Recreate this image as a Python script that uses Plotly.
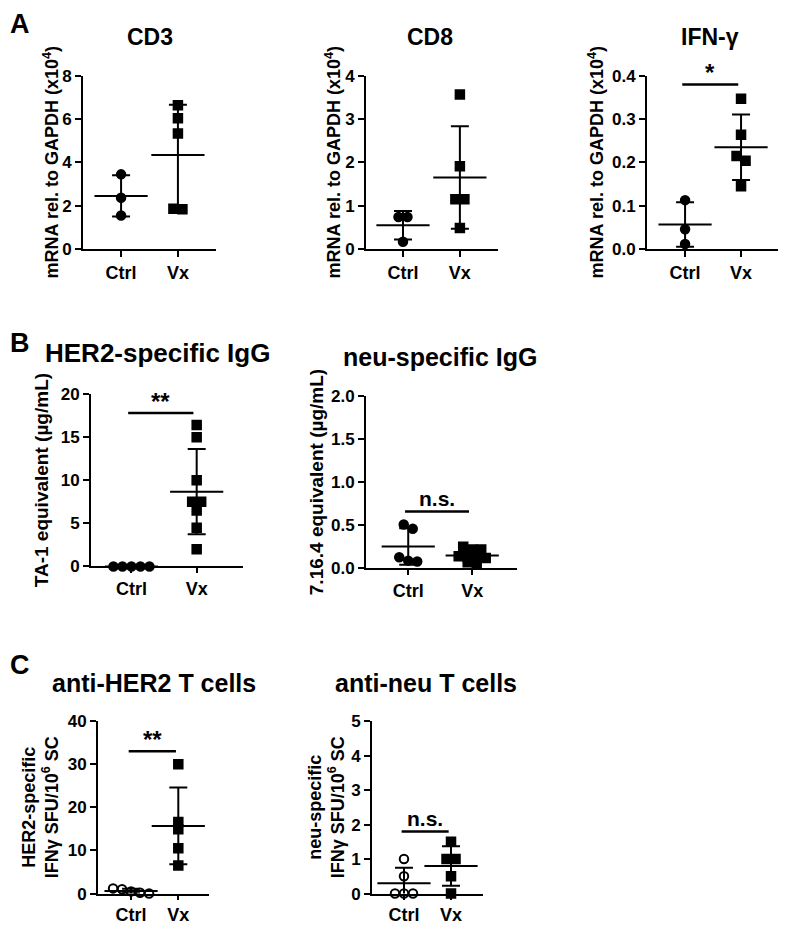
import numpy as np
import plotly.graph_objects as go

groups = ["Ctrl", "Vx"]

# values
cd3_ctrl = [3.45, 2.37, 1.55]
cd3_vx = [6.64, 6.04, 5.33, 1.86, 1.84]
cd8_ctrl = [0.74, 0.74, 0.17]
cd8_vx = [3.57, 1.91, 1.15, 1.15, 0.49]
ifng_ctrl = [0.113, 0.046, 0.012]
ifng_vx = [0.347, 0.264, 0.215, 0.204, 0.145]
her2_igg_ctrl = [0, 0, 0, 0, 0]
her2_igg_vx = [16.4, 15.0, 10.0, 7.5, 7.5, 6.5, 4.5, 2.0]
neu_igg_ctrl = [0.51, 0.46, 0.13, 0.09, 0.08]
neu_igg_vx = [0.25, 0.22, 0.22, 0.14, 0.13, 0.13, 0.12, 0.07, 0.06]
her2_t_ctrl = [1.2, 1.0, 0.5, 0.2, 0.0]
her2_t_vx = [30.0, 16.6, 14.9, 10.5, 6.5]
neu_t_ctrl = [1.0, 0.5, 0.0, 0.0, 0.0]
neu_t_vx = [1.5, 1.0, 1.0, 0.5, 0.0]

# the page body has an 8px margin, so the figure is drawn 8px in from the corner
OFF = 8
W, H = 800 - OFF, 930 - OFF
FONT = "Liberation Sans"


def px(x, y):
    return (x - OFF) / W, 1 - (y - OFF) / H


panels = [
    dict(title="CD3", ytitle="mRNA rel. to GAPDH (x10<sup>4</sup>)", ctrl=cd3_ctrl, vx=cd3_vx,
         ymax=8, dtick=2, fmt="d", box=(83, 216, 68, 245), xr=(0.33, 2.67),
         tpos=(150, 28), ytx=51, yts=18, tsz=23, open_ctrl=False, sig=None, xtl=6),
    dict(title="CD8", ytitle="mRNA rel. to GAPDH (x10<sup>4</sup>)", ctrl=cd8_ctrl, vx=cd8_vx,
         ymax=4, dtick=1, fmt="d", box=(366, 498, 68, 245), xr=(0.35, 2.67),
         tpos=(430, 28), ytx=333, yts=18, tsz=23, open_ctrl=False, sig=None, xtl=6),
    dict(title="IFN-γ", ytitle="mRNA rel. to GAPDH (x10<sup>4</sup>)", ctrl=ifng_ctrl, vx=ifng_vx,
         ymax=0.4, dtick=0.1, fmt=".1f", box=(647, 778, 68, 245), xr=(0.32, 2.66),
         tpos=(710, 28), ytx=596, yts=18, tsz=23, open_ctrl=False, sig=("*", 0.38), xtl=6),
    dict(title="HER2-specific IgG", ytitle="TA-1 equivalent (µg/mL)", ctrl=her2_igg_ctrl, vx=her2_igg_vx,
         ymax=20, dtick=5, fmt="d", box=(91, 243, 393, 569), xr=(0.38, 2.71),
         tpos=(157, 351), ytx=41, yts=19, tsz=26, open_ctrl=False, sig=("**", 17.8), xtl=5),
    dict(title="neu-specific IgG", ytitle="7.16.4 equivalent (µg/mL)", ctrl=neu_igg_ctrl, vx=neu_igg_vx,
         ymax=2, dtick=0.5, fmt=".1f", box=(366, 517, 395, 571), xr=(0.34, 2.70),
         tpos=(440, 355), ytx=316, yts=19, tsz=25, open_ctrl=False, sig=("n.s.", 0.66), xtl=5),
    dict(title="anti-HER2 T cells", ytitle="HER2-specific<br>IFNγ SFU/10<sup>6</sup> SC", ctrl=her2_t_ctrl, vx=her2_t_vx,
         ymax=40, dtick=10, fmt="d", box=(98, 209, 727, 903), xr=(0.3, 2.65),
         tpos=(154, 688), ytx=40, yts=18, tsz=25, open_ctrl=True, sig=("**", 33), xtl=4),
    dict(title="anti-neu T cells", ytitle="neu-specific<br>IFNγ SFU/10<sup>6</sup> SC", ctrl=neu_t_ctrl, vx=neu_t_vx,
         ymax=5, dtick=1, fmt="d", box=(372, 483, 727, 903), xr=(0.32, 2.68),
         tpos=(426, 688), ytx=326, yts=18, tsz=25, open_ctrl=True, sig=("n.s.", 1.8), xtl=4),
]

letters = [("A", 8, 15), ("B", 8, 341), ("C", 8, 670)]


def bold(size):
    return dict(size=size, family=FONT, color="black", weight=700)


def swarm(vals, center, ppu_x, ppu_y, gap=9.0, thr=6.0):
    order = sorted(range(len(vals)), key=lambda i: -vals[i])
    clusters = []
    for i in order:
        if clusters and (vals[clusters[-1][0]] - vals[i]) * ppu_y < thr:
            clusters[-1].append(i)
        else:
            clusters.append([i])
    xs = [center] * len(vals)
    for cl in clusters:
        n = len(cl)
        for k, i in enumerate(cl):
            xs[i] = center + (k - (n - 1) / 2) * gap / ppu_x
    return xs


fig = go.Figure()
annotations = []

for n, p in enumerate(panels, start=1):
    x0, x1, ytop, ybot = p["box"]
    xa = "x" if n == 1 else f"x{n}"
    ya = "y" if n == 1 else f"y{n}"
    ppu_x = (x1 - x0) / (p["xr"][1] - p["xr"][0])
    ppu_y = (ybot - ytop) / p["ymax"]

    for gi, (vals, sym) in enumerate([(p["ctrl"], "circle-open" if p["open_ctrl"] else "circle"),
                                      (p["vx"], "square")]):
        c = gi + 1
        m = float(np.mean(vals))
        sd = float(np.std(vals, ddof=1))
        fig.add_trace(go.Scatter(
            x=[c], y=[m], mode="markers", xaxis=xa, yaxis=ya, cliponaxis=False,
            marker=dict(symbol="line-ew", size=38, line=dict(width=2, color="black")),
            error_y=dict(type="data", array=[sd], color="black", thickness=2, width=9,
                         visible=sd > 0),
        ))
        fig.add_trace(go.Scatter(
            x=swarm(vals, c, ppu_x, ppu_y), y=vals, mode="markers", xaxis=xa, yaxis=ya,
            cliponaxis=False,
            marker=dict(symbol=sym, size=8.5, color="black",
                        line=dict(width=2, color="black")),
        ))

    if p["sig"]:
        label, lvl = p["sig"]
        fig.add_trace(go.Scatter(
            x=[0.95, 1.95], y=[lvl, lvl], mode="lines", xaxis=xa, yaxis=ya, cliponaxis=False,
            line=dict(color="black", width=2.5),
        ))
        annotations.append(dict(x=1.45, y=lvl, xref=xa, yref=ya, text=f"<b>{label}</b>",
                                showarrow=False, yanchor="bottom",
                                yshift=-4 if "*" in label else 0,
                                font=bold(24 if "*" in label else 21)))

    dx0, dytop = px(x0, ytop)
    dx1, dybot = px(x1, ybot)
    fig.layout[f"xaxis{'' if n == 1 else n}"] = dict(
        domain=[dx0, dx1], range=list(p["xr"]), anchor=ya,
        tickvals=[1, 2], ticktext=[f"<b>{g}</b>" for g in groups],
        showline=True, linecolor="black", linewidth=2, ticks="outside",
        ticklen=p["xtl"], tickwidth=2, tickcolor="black", showgrid=False, zeroline=False,
        tickfont=bold(18))
    fig.layout[f"yaxis{'' if n == 1 else n}"] = dict(
        domain=[dybot, dytop], range=[0, p["ymax"]], anchor=xa,
        dtick=p["dtick"], tickformat=p["fmt"], tickprefix="<b>", ticksuffix="</b>",
        showline=True, linecolor="black", linewidth=2, ticks="outside",
        ticklen=6, tickwidth=2, tickcolor="black", showgrid=False, zeroline=False,
        tickfont=bold(17))

    tx, ty = px(*p["tpos"])
    annotations.append(dict(x=tx, y=ty, xref="paper", yref="paper",
                            text=f"<b>{p['title']}</b>", showarrow=False,
                            xanchor="center", yanchor="middle", font=bold(p["tsz"])))
    yx, yy = px(p["ytx"], (ytop + ybot) / 2)
    annotations.append(dict(x=yx, y=yy, xref="paper", yref="paper",
                            text="<b>" + p["ytitle"].replace("<br>", "</b><br><b>") + "</b>",
                            showarrow=False, textangle=-90,
                            xanchor="center", yanchor="middle", font=bold(p["yts"])))

for txt, lx, ly in letters:
    ax, ay = px(lx, ly)
    annotations.append(dict(x=ax, y=ay, xref="paper", yref="paper", text=f"<b>{txt}</b>",
                            showarrow=False, xanchor="left", yanchor="middle", font=bold(27)))

fig.update_layout(width=W, height=H, margin=dict(l=0, r=0, t=0, b=0),
                  plot_bgcolor="white", paper_bgcolor="white", showlegend=False,
                  annotations=annotations, font=dict(family=FONT, color="black"))

fig.write_html("out.html")
